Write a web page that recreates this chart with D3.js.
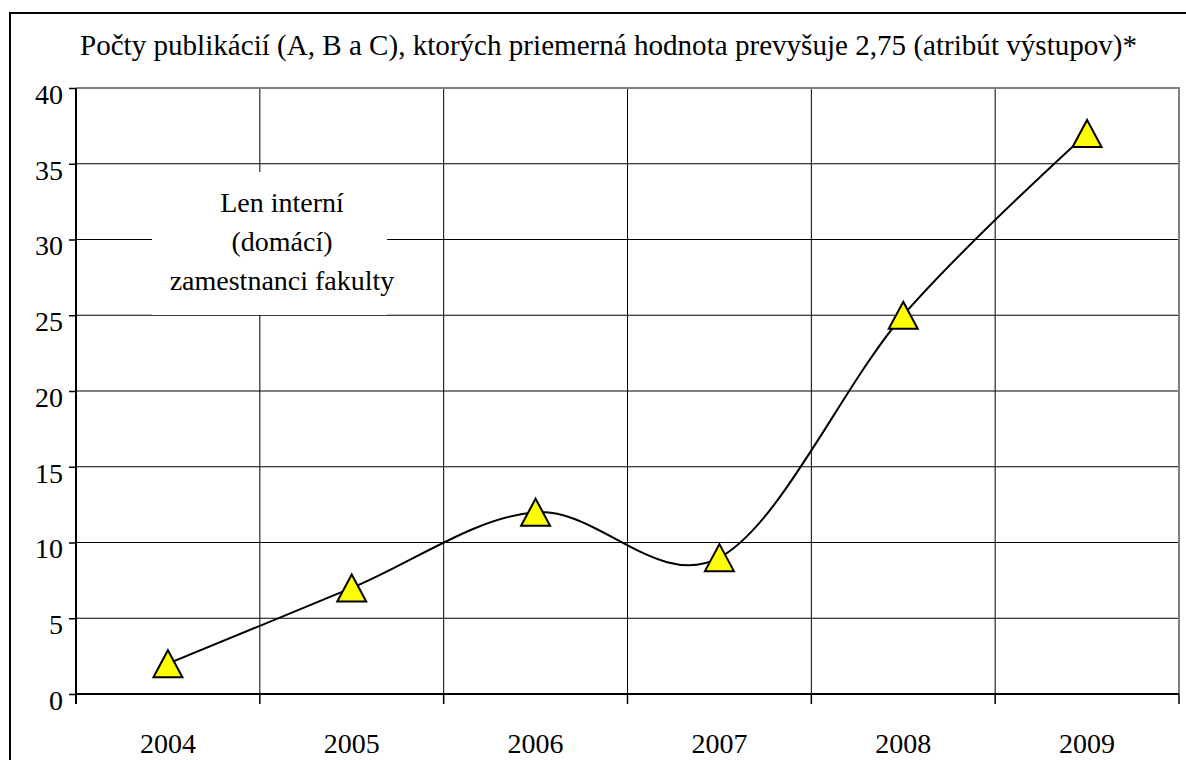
<!DOCTYPE html>
<html>
<head>
<meta charset="utf-8">
<script src="https://cdn.jsdelivr.net/npm/d3@7"></script>
<style>
  body { margin: 0; background: #fff; }
</style>
</head>
<body>
<svg id="chart" width="1186" height="760"></svg>
<script>
// data
const years = ["2004", "2005", "2006", "2007", "2008", "2009"];
const counts = [2, 7, 12, 9, 25, 37];
const yTicks = [0, 5, 10, 15, 20, 25, 30, 35, 40];
const titleText = "Počty publikácií (A, B a C), ktorých priemerná hodnota prevyšuje 2,75 (atribút výstupov)*";
const noteLines = ["Len interní", "(domácí)", "zamestnanci fakulty"];

const plot = { left: 76, right: 1179, top: 88, bottom: 694 };
const FONT = '"Times New Roman"';

const svg = d3.select("#chart");

// outer frame (runs off the right and bottom edge)
svg.append("rect")
    .attr("x", 10).attr("y", 13)
    .attr("width", 1220).attr("height", 800)
    .attr("fill", "#fff")
    .attr("stroke", "#000")
    .attr("stroke-width", 2);

const title = svg.append("text")
    .attr("x", 80).attr("y", 55)
    .style("font-family", FONT)
    .style("font-size", "26px")
    .text(titleText);
// fit title to the width it has in the original
const tw = title.node().getComputedTextLength();
title.style("font-size", Math.min(30, 26 * 1057 / tw).toFixed(2) + "px");

const x = d3.scaleBand()
    .domain(years)
    .range([plot.left, plot.right])
    .padding(0);

const y = d3.scaleLinear()
    .domain([0, 40])
    .range([plot.bottom, plot.top]);

// horizontal gridlines
svg.append("g")
    .selectAll("line")
    .data(yTicks.filter(d => d > 0 && d < 40))
    .join("line")
    .attr("x1", plot.left).attr("x2", plot.right)
    .attr("y1", d => y(d)).attr("y2", d => y(d))
    .attr("stroke", "#000")
    .attr("stroke-width", 1);

// vertical gridlines at category boundaries
svg.append("g")
    .selectAll("line")
    .data(years.slice(1))
    .join("line")
    .attr("x1", d => x(d)).attr("x2", d => x(d))
    .attr("y1", plot.top).attr("y2", plot.bottom)
    .attr("stroke", "#000")
    .attr("stroke-width", 1);

// plot border (top/right in gray)
svg.append("path")
    .attr("d", `M${plot.left},${plot.top}H${plot.right}V${plot.bottom}`)
    .attr("fill", "none")
    .attr("stroke", "#808080")
    .attr("stroke-width", 2);

// y axis
const yAxis = svg.append("g")
    .attr("transform", `translate(${plot.left},0)`)
    .call(d3.axisLeft(y).tickValues(yTicks).tickSize(7).tickPadding(6).tickFormat(d3.format("d")));
yAxis.attr("font-family", "Times New Roman").attr("font-size", 28);
yAxis.select(".domain").attr("d", `M0,${plot.top}V${plot.bottom + 10}`).attr("stroke-width", 2);
yAxis.selectAll(".tick line").attr("stroke-width", 1.5);
yAxis.selectAll(".tick text")
    .attr("dy", "0.55em")
    .style("font-size", "28px")
    .style("font-family", FONT);

// x axis, ticks between categories
const bounds = years.map(d => x(d)).concat([x(years[years.length - 1]) + x.bandwidth()]);
const xAxis = svg.append("g");
xAxis.append("line")
    .attr("x1", plot.left).attr("x2", plot.right)
    .attr("y1", plot.bottom).attr("y2", plot.bottom)
    .attr("stroke", "#000").attr("stroke-width", 2);
xAxis.selectAll("line.tk")
    .data(bounds.slice(1))
    .join("line")
    .attr("class", "tk")
    .attr("x1", d => d).attr("x2", d => d)
    .attr("y1", plot.bottom).attr("y2", plot.bottom + 10)
    .attr("stroke", "#000").attr("stroke-width", 1.5);
xAxis.selectAll("text")
    .data(years)
    .join("text")
    .attr("x", d => x(d) + x.bandwidth() / 2)
    .attr("y", 753)
    .attr("text-anchor", "middle")
    .style("font-family", FONT)
    .style("font-size", "28px")
    .text(d => d);

// annotation box
svg.append("rect")
    .attr("x", 152).attr("y", 172)
    .attr("width", 235).attr("height", 143)
    .attr("fill", "#fff");
svg.append("g")
    .selectAll("text")
    .data(noteLines)
    .join("text")
    .attr("x", 282)
    .attr("y", (d, i) => 212 + i * 39)
    .attr("text-anchor", "middle")
    .style("font-family", FONT)
    .style("font-size", "28px")
    .text(d => d);

// series line
const pts = years.map((d, i) => [x(d) + x.bandwidth() / 2, y(counts[i])]);
svg.append("path")
    .attr("d", d3.line().curve(d3.curveCardinal.tension(0))(pts))
    .attr("fill", "none")
    .attr("stroke", "#000")
    .attr("stroke-width", 2);

// triangle markers
svg.append("g")
    .selectAll("path")
    .data(pts)
    .join("path")
    .attr("d", p => `M${p[0]},${p[1] - 13.5}L${p[0] + 14.5},${p[1] + 13.5}L${p[0] - 14.5},${p[1] + 13.5}Z`)
    .attr("fill", "#ffff00")
    .attr("stroke", "#000")
    .attr("stroke-width", 2)
    .attr("stroke-linejoin", "miter");
</script>
</body>
</html>
